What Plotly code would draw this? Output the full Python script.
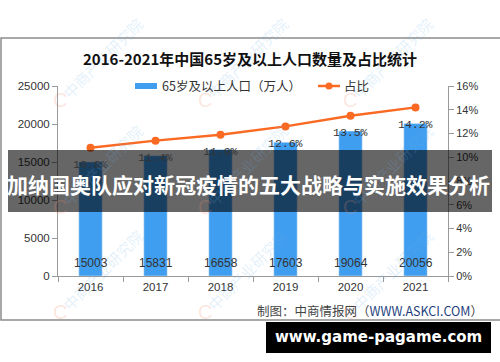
import plotly.graph_objects as go

years = ["2016", "2017", "2018", "2019", "2020", "2021"]
population = [15003, 15831, 16658, 17603, 19064, 20056]
share_pct = [10.8, 11.4, 11.9, 12.6, 13.5, 14.2]
left_ticks = [0, 5000, 10000, 15000, 20000, 25000]
right_ticks = [0, 2, 4, 6, 8, 10, 12, 14, 16]

W, H = 500, 362
def px(x):
    return x / W
def py(y):
    return 1 - y / H

BAR = "#409ef0"
LINE = "#fb6a22"
AX = "#9a9a9a"
TXT = "#333333"

fig = go.Figure()
fig.add_trace(go.Bar(x=years, y=population, width=0.36, marker_color=BAR,
                     name="65岁及以上人口（万人）", showlegend=False))
fig.add_trace(go.Scatter(x=years, y=share_pct, yaxis="y2", mode="lines+markers",
                         line=dict(color=LINE, width=2.5),
                         marker=dict(color=LINE, size=8), name="占比", showlegend=False))

ann = []
def note(x, y, text, font, **kw):
    d = dict(x=x, y=y, text=text, showarrow=False, font=font,
             xanchor=kw.pop("xanchor", "center"), yanchor=kw.pop("yanchor", "middle"))
    d.update(kw)
    ann.append(d)

# bar value labels (category index positions)
for i, v in enumerate(population):
    note(i, 0, str(v), dict(family="Liberation Sans", size=12, color=TXT),
         xref="x", yref="y", yshift=13)
# percent labels
for i, v in enumerate(share_pct):
    note(i, v, f"{v}%", dict(family="Liberation Mono", size=11.5, color=TXT),
         xref="x", yref="y2", yshift=-17)

# watermarks
for wx in [60, 205, 350]:
    for wy in [100, 207, 312]:
        note(px(wx + 42), py(wy - 42), "中商产业研究院",
             dict(family="Noto Sans CJK SC", size=15, color="rgba(110,175,230,0.2)"),
             xref="paper", yref="paper", textangle=-45)
        note(px(wx), py(wy), "C",
             dict(family="Liberation Sans", size=20, color="rgba(240,140,110,0.22)"),
             xref="paper", yref="paper")

# title
note(px(250), py(58), "<b>2016-2021年中国65岁及以上人口数量及占比统计</b>",
     dict(family="Noto Sans CJK SC", size=15, color="#111111"), xref="paper", yref="paper")
# legend texts
note(px(160), py(86), "65岁及以上人口（万人）",
     dict(family="Noto Sans CJK SC", size=12.5, color=TXT), xref="paper", yref="paper",
     xanchor="left")
note(px(342), py(86), "占比",
     dict(family="Noto Sans CJK SC", size=12.5, color=TXT), xref="paper", yref="paper",
     xanchor="left")
# footer
note(px(485), py(310), "制图：中商情报网（<span style='color:#1f3f80'>WWW.ASKCI.COM</span>）",
     dict(family="Noto Sans CJK SC", size=12.5, color="#444444"), xref="paper", yref="paper",
     xanchor="right")
# overlay banner texts
note(px(248), py(184), "<b>加纳国奥队应对新冠疫情的五大战略与实施效果分析</b>",
     dict(family="Noto Sans CJK SC", size=21, color="white"), xref="paper", yref="paper")
note(px(378), py(337), "<b>www.game-pagame.com</b>",
     dict(family="DejaVu Sans", size=15, color="white"), xref="paper", yref="paper")

shapes = [
    dict(type="rect", xref="paper", yref="paper", x0=px(1), x1=px(502), y0=py(320), y1=py(38),
         line=dict(color="#8c8c8c", width=1.5), layer="below"),
    dict(type="rect", xref="paper", yref="paper", x0=px(135), x1=px(157), y0=py(89), y1=py(83),
         fillcolor=BAR, line=dict(width=0)),
    dict(type="line", xref="paper", yref="paper", x0=px(318), x1=px(340), y0=py(86), y1=py(86),
         line=dict(color=LINE, width=2.5)),
    dict(type="circle", xref="paper", yref="paper", x0=px(325.5), x1=px(332.5), y0=py(89.5), y1=py(82.5),
         fillcolor=LINE, line=dict(width=0)),
    dict(type="rect", xref="paper", yref="paper", x0=px(8), x1=px(492), y0=py(212), y1=py(150),
         fillcolor="rgba(0,0,0,0.6)", line=dict(width=0), layer="above"),
    dict(type="rect", xref="paper", yref="paper", x0=px(266), x1=px(491), y0=py(353), y1=py(322),
         fillcolor="black", line=dict(width=0), layer="above"),
]

fig.update_layout(
    width=W, height=H, margin=dict(l=0, r=0, t=0, b=0),
    paper_bgcolor="white", plot_bgcolor="white",
    showlegend=False,
    xaxis=dict(type="category", domain=[px(58), px(448)], range=[-0.5, len(years) - 0.5],
               showline=True, linecolor=AX, linewidth=1,
               ticks="outside", tickson="boundaries", ticklen=5, tickcolor=AX,
               showgrid=False, automargin=False,
               tickfont=dict(family="Liberation Sans", size=11.5, color=TXT)),
    yaxis=dict(domain=[py(276), py(86)], range=[0, 25000], tickmode="array",
               tickvals=left_ticks, ticktext=[str(t) for t in left_ticks],
               showline=True, linecolor=AX, linewidth=1, ticks="outside", ticklen=5,
               tickcolor=AX, showgrid=False, zeroline=False, automargin=False,
               tickfont=dict(family="Liberation Sans", size=11.5, color=TXT)),
    yaxis2=dict(domain=[py(276), py(86)], range=[0, 16], tickmode="array",
                tickvals=right_ticks, ticktext=[f"{t}%" for t in right_ticks],
                overlaying="y", side="right", anchor="x",
                showline=True, linecolor=AX, linewidth=1, ticks="outside", ticklen=5,
                tickcolor=AX, showgrid=False, zeroline=False, automargin=False,
                tickfont=dict(family="Liberation Sans", size=11, color=TXT)),
    annotations=ann, shapes=shapes,
)

fig.write_html("out.html", config={"displayModeBar": False},
               post_script="document.body.style.margin='0px';")
